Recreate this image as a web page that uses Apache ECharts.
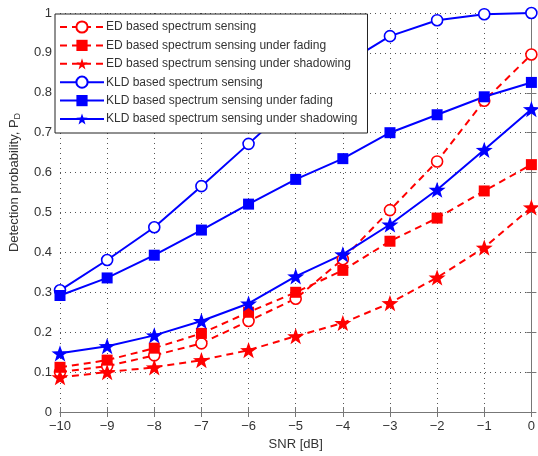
<!DOCTYPE html>
<html>
<head>
<meta charset="utf-8">
<script src="https://cdn.jsdelivr.net/npm/echarts@6/dist/echarts.min.js"></script>
<style>
  html, body { margin: 0; padding: 0; background: #fff; }
  #chart { width: 538px; height: 456px; }
</style>
</head>
<body>
<div id="chart"></div>
<script>
  // SNR in dB
  var snr = [-10, -9, -8, -7, -6, -5, -4, -3, -2, -1, 0];
  // detection probability
  var edBasic   = [0.100, 0.115, 0.142, 0.172, 0.228, 0.284, 0.383, 0.506, 0.628, 0.780, 0.896];
  var edFading  = [0.112, 0.130, 0.160, 0.197, 0.250, 0.300, 0.355, 0.428, 0.486, 0.554, 0.620];
  var edShadow  = [0.087, 0.100, 0.112, 0.130, 0.155, 0.190, 0.223, 0.273, 0.337, 0.412, 0.513];
  var kldBasic  = [0.305, 0.381, 0.463, 0.566, 0.672, 0.780, 0.870, 0.942, 0.982, 0.997, 1.000];
  var kldFading = [0.292, 0.336, 0.393, 0.456, 0.521, 0.583, 0.635, 0.700, 0.745, 0.790, 0.826];
  var kldShadow = [0.147, 0.165, 0.192, 0.228, 0.272, 0.340, 0.395, 0.470, 0.557, 0.657, 0.759];
  var names = [
    'ED based spectrum sensing',
    'ED based spectrum sensing under fading',
    'ED based spectrum sensing under shadowing',
    'KLD based spectrum sensing',
    'KLD based spectrum sensing under fading',
    'KLD based spectrum sensing under shadowing'
  ];

  var star = 'path://M50,0L61.8,33.8L97.6,34.5L69,56.2L79.4,90.5L50,70L20.6,90.5L31,56.2L2.4,34.5L38.2,33.8Z';

  function pairs(ys) {
    return snr.map(function (x, i) { return [x, ys[i]]; });
  }

  function mkSeries(name, ys, color, dashed, symbol, size, filled) {
    return {
      name: name,
      type: 'line',
      data: pairs(ys),
      symbol: symbol,
      symbolSize: size,
      symbolKeepAspect: true,
      showAllSymbol: true,
      lineStyle: { color: color, width: 2, type: dashed ? [7, 5] : 'solid' },
      itemStyle: { color: filled ? color : '#fff', borderColor: color, borderWidth: filled ? 0 : 1.6 },
      emphasis: { disabled: true },
      animation: false
    };
  }

  var gridLine = { show: true, lineStyle: { color: '#555', type: [1, 4], width: 1 } };
  var axLine = { show: true, lineStyle: { color: '#777', width: 1 } };
  var labelFont = { color: '#333', fontSize: 13, fontFamily: 'Liberation Sans, Arial, sans-serif' };

  var chart = echarts.init(document.getElementById('chart'));
  chart.setOption({
    backgroundColor: '#fff',
    grid: { left: 53, right: 3, top: 13, bottom: 40 },
    legend: {
      data: names,
      orient: 'vertical',
      left: 55,
      top: 14,
      backgroundColor: '#fff',
      borderColor: '#222',
      borderWidth: 1,
      borderRadius: 0,
      padding: [6, 10, 7, 4],
      itemWidth: 44,
      itemHeight: 14,
      itemGap: 4.4,
      selectedMode: false,
      textStyle: { color: '#333', fontSize: 12, lineHeight: 14, fontFamily: 'Liberation Sans, Arial, sans-serif', padding: [0, 0, 0, -3] }
    },
    xAxis: [{
      type: 'value',
      min: -10, max: 0, interval: 1,
      name: 'SNR [dB]',
      nameLocation: 'middle',
      nameGap: 26,
      nameTextStyle: labelFont,
      axisLine: axLine,
      axisTick: { show: true, inside: true, length: 5, lineStyle: { color: '#777' } },
      axisLabel: Object.assign({ margin: 8, formatter: function (v) { return String(v).replace('-', '\u2212'); } }, labelFont),
      splitLine: gridLine
    }, {
      type: 'value',
      position: 'top',
      min: -10, max: 0, interval: 1,
      axisLine: axLine,
      axisTick: { show: true, inside: true, length: 5, lineStyle: { color: '#777' } },
      axisLabel: { show: false },
      splitLine: { show: false }
    }],
    yAxis: [{
      type: 'value',
      min: 0, max: 1, interval: 0.1,
      name: '{a|Detection probability, P}{b|D}',
      nameLocation: 'middle',
      nameGap: 38,
      nameTextStyle: {
        padding: [0, 0, 0, 60],
        rich: {
          a: labelFont,
          b: { color: '#333', fontSize: 9, fontFamily: 'Liberation Sans, Arial, sans-serif', padding: [6, 0, 0, 0] }
        }
      },
      axisLine: axLine,
      axisTick: { show: true, inside: true, length: 5, lineStyle: { color: '#777' } },
      axisLabel: Object.assign({ margin: 8, formatter: function (v) { return v === 0 || v === 1 ? String(v) : v.toFixed(1); } }, labelFont),
      splitLine: gridLine
    }, {
      type: 'value',
      position: 'right',
      min: 0, max: 1, interval: 0.1,
      axisLine: axLine,
      axisTick: { show: true, inside: true, length: 5, lineStyle: { color: '#777' } },
      axisLabel: { show: false },
      splitLine: { show: false }
    }],
    series: [
      mkSeries(names[0], edBasic, '#ff0000', true, 'circle', 11, false),
      mkSeries(names[1], edFading, '#ff0000', true, 'rect', 11, true),
      mkSeries(names[2], edShadow, '#ff0000', true, star, 17, true),
      mkSeries(names[3], kldBasic, '#0000ff', false, 'circle', 11, false),
      mkSeries(names[4], kldFading, '#0000ff', false, 'rect', 11, true),
      mkSeries(names[5], kldShadow, '#0000ff', false, star, 17, true)
    ]
  });
</script>
</body>
</html>
